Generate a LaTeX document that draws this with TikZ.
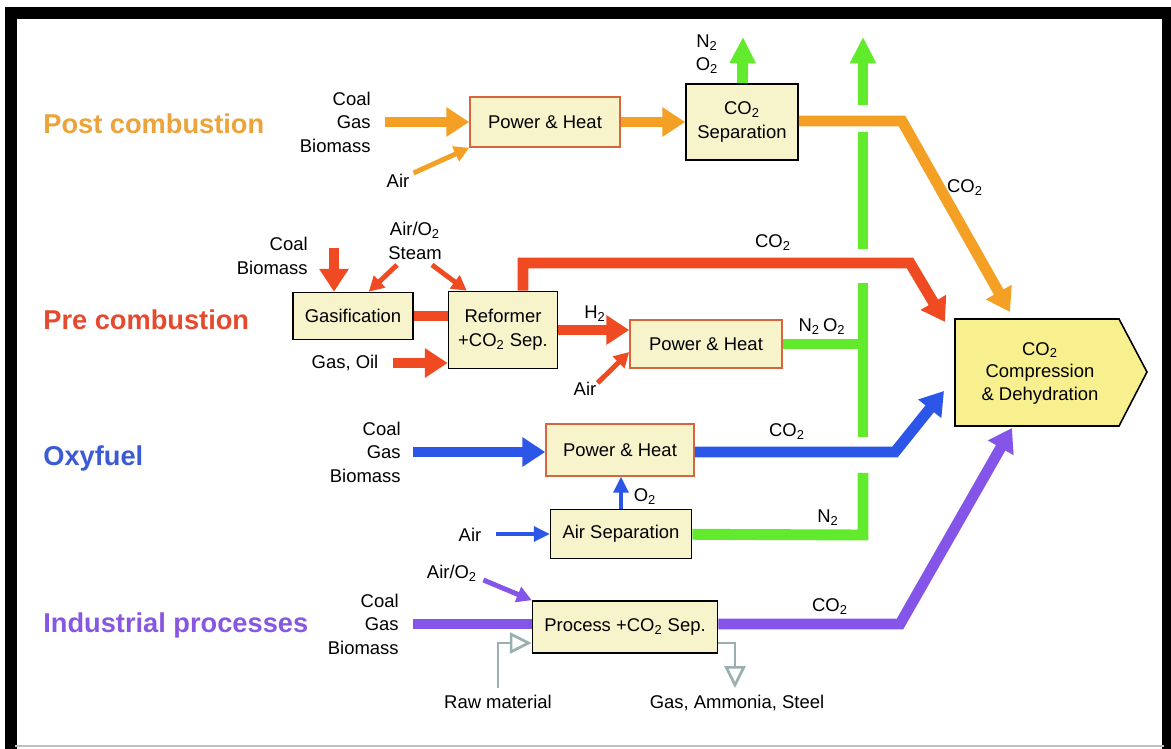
\documentclass[tikz,border=0pt]{standalone}
\usepackage{fontspec}
\setmainfont{Liberation Sans}
\usetikzlibrary{arrows.meta}

\definecolor{cOrange}{HTML}{F4A024}
\definecolor{cRed}{HTML}{EF4A22}
\definecolor{cBlue}{HTML}{2B56E8}
\definecolor{cGreen}{HTML}{62EA2C}
\definecolor{cPurple}{HTML}{8455E8}
\definecolor{tOrange}{HTML}{EBA33A}
\definecolor{tRed}{HTML}{E64A2E}
\definecolor{tBlue}{HTML}{3B5BD6}
\definecolor{tPurple}{HTML}{8857E0}
\definecolor{boxFill}{HTML}{F7F4CC}
\definecolor{compFill}{HTML}{F8EF8E}
\definecolor{boxEdge}{HTML}{D8663C}
\definecolor{cGray}{HTML}{9AAFB0}

\newcommand{\lblfont}{\fontsize{10.5}{13.4}\selectfont}
\newcommand{\ttlfont}{\fontsize{15.5}{18}\selectfont\bfseries}

\tikzset{
  box/.style={draw=black, fill=boxFill, line width=0.9pt, font=\lblfont, align=center, inner sep=0pt},
  pbox/.style={box, draw=boxEdge},
  lbl/.style={font=\lblfont, align=center, inner sep=0pt},
  ttl/.style={font=\ttlfont, anchor=west, inner sep=0pt},
  flow/.style={line width=6.2pt, -{Triangle[length=13pt,width=16pt]}},
  bar/.style={line width=5.6pt},
  thinflow/.style={line width=2.8pt, -{Triangle[length=8.5pt,width=9pt]}},
  slimflow/.style={line width=1.8pt, -{Triangle[length=9pt,width=8.5pt]}},
  gline/.style={cGreen, line width=6.2pt},
  gflow/.style={gline, -{Triangle[length=15pt,width=14pt]}},
  raw/.style={cGray, line width=1.5pt, -{Triangle[length=12.5pt,width=12pt,fill=white]}}
}

\begin{document}
\begin{tikzpicture}[x=0.02cm, y=-0.02cm]
\useasboundingbox (0,0) rectangle (1171,749);
\fill[white] (0,0) rectangle (1171,749);
\draw[line width=6.8pt] (11,749) -- (11,13) -- (1168,13) -- (1168,749);
\draw[black!25, line width=1.5pt] (15,746) -- (1164,746);

% titles
\node[ttl, text=tOrange] (post) at (43,124) {Post combustion};
\node[ttl, text=tRed] (pre) at (43,320) {Pre combustion};
\node[ttl, text=tBlue] (oxy) at (43,458) {Oxyfuel};
\node[ttl, text=tPurple] (ind) at (43,625) {Industrial processes};

% post combustion
\node[lbl, align=right, anchor=east] (fuel1) at (371,122) {Coal\\Gas\\Biomass};
\node[pbox, minimum width=3cm, minimum height=1cm] (ph1) at (545,122) {Power \& Heat};
\node[box, minimum width=2.24cm, minimum height=1.52cm] (sep) at (742,122) {CO\textsubscript{2}\\Separation};
\node[lbl] (air1) at (398,181) {Air};
\node[lbl] (n2o2a) at (707,54) {N\textsubscript{2}\\O\textsubscript{2}};
\node[lbl] (co2a) at (965,188) {CO\textsubscript{2}};
\coordinate (c1) at (902,121);
\coordinate (c1tip) at (1010,312);
\coordinate (n2tip) at (743,37);

\draw[flow, cOrange] ([xshift=8pt]fuel1.east |- ph1) -- (ph1);
\draw[thinflow, cOrange] ([shift={(4,-1)}]air1.north east) -- (ph1.south west);
\draw[flow, cOrange] (ph1) -- (sep);
\draw[gflow] (sep) -- (n2tip);
\draw[flow, cOrange] (sep.east |- c1) -- (c1) -- (c1tip);

% pre combustion
\node[lbl, align=right, anchor=east] (fuel2) at (308,256) {Coal\\Biomass};
\node[lbl] (steam) at (415,241) {Air/O\textsubscript{2}\\Steam};
\node[box, minimum width=2.4cm, minimum height=0.94cm] (gas) at (353,316) {Gasification};
\node[box, minimum width=2.18cm, minimum height=1.54cm] (ref) at (503,330) {Reformer\\+CO\textsubscript{2} Sep.};
\node[pbox, minimum width=3.04cm, minimum height=0.96cm] (ph2) at (706,344) {Power \& Heat};
\node[lbl] (gasoil) at (345,363) {Gas, Oil};
\node[lbl] (h2) at (595,314) {H\textsubscript{2}};
\node[lbl] (air2) at (585,389) {Air};
\node[lbl] (co2b) at (773,243) {CO\textsubscript{2}};
\node[lbl] (n2o2b) at (822,327) {N\textsubscript{2}\,O\textsubscript{2}};
\coordinate (f2) at (334,248);
\coordinate (c2a) at (523,263);
\coordinate (c2b) at (910,263);
\coordinate (c2tip) at (945,322);

\draw[flow, cRed] (f2) -- (f2 |- gas.north);
\draw[thinflow, cRed] ([shift={(-18,5)}]steam.south) -- ([shift={(-45,0)}]gas.north east);
\draw[thinflow, cRed] ([shift={(17,5)}]steam.south) -- ([shift={(19,0)}]ref.north west);
\draw[bar, cRed] (gas.east) -- (gas.east -| ref.west);
\draw[flow, cRed] ([xshift=8pt]gasoil.east) -- (gasoil -| ref.west);
\draw[flow, cRed] (ref.north -| c2a) -- (c2a) -- (c2b) -- (c2tip);
\draw[flow, cRed] (ref.east) -- (ref.east -| ph2.west);
\draw[thinflow, cRed] ([shift={(1,1)}]air2.north east) -- ([shift={(0,8)}]ph2.west);

% green collector
\coordinate (gtop) at (863,37);
\coordinate (g1) at (863,105);
\coordinate (g2) at (863,132);
\coordinate (g3) at (863,249);
\coordinate (g4) at (863,283);
\coordinate (g5) at (863,437);
\coordinate (g6) at (863,473);
\coordinate (gcorner) at (863,535);
\draw[gflow] (g1) -- (gtop);
\draw[gline] (g2) -- (g3);
\draw[gline] (g4) -- (g5);
\draw[gline] (ph2) -- (ph2 -| g4);

% oxyfuel
\node[lbl, align=right, anchor=east] (fuel3) at (401,452) {Coal\\Gas\\Biomass};
\node[pbox, minimum width=2.96cm, minimum height=1.04cm] (ph3) at (620,450) {Power \& Heat};
\node[box, minimum width=2.82cm, minimum height=0.98cm] (asu) at (621,534) {Air Separation};
\node[lbl] (o2) at (645,497) {O\textsubscript{2}};
\node[lbl] (air3) at (470,535) {Air};
\node[lbl] (co2c) at (787,432) {CO\textsubscript{2}};
\node[lbl] (n2) at (828,518) {N\textsubscript{2}};
\coordinate (c3) at (895,452);
\coordinate (c3tip) at (944,391);

\draw[flow, cBlue] ([xshift=7pt]fuel3.east) -- (fuel3 -| ph3.west);
\draw[flow, cBlue] (ph3.east |- c3) -- (c3) -- (c3tip);
\draw[slimflow, cBlue] (asu.north) -- (asu.north |- ph3.south);
\draw[slimflow, cBlue] ([xshift=8pt]air3.east |- asu.west) -- (asu.west);
\draw[gline] (asu) -- (gcorner) -- (g6);

% industrial processes
\node[lbl, align=right, anchor=east] (fuel4) at (399,624) {Coal\\Gas\\Biomass};
\node[box, minimum width=3.7cm, minimum height=1.04cm] (proc) at (625,627) {Process +CO\textsubscript{2} Sep.};
\node[lbl] (airo2) at (452,573) {Air/O\textsubscript{2}};
\node[lbl] (co2d) at (830,607) {CO\textsubscript{2}};
\node[lbl] (rawm) at (498,702) {Raw material};
\node[lbl] (prod) at (737,703) {Gas, Ammonia, Steel};
\coordinate (c4) at (900,624);
\coordinate (c4tip) at (1012,428);
\coordinate (rawc) at (498,643);
\coordinate (prodc) at (735,643);
\coordinate (prodtip) at (735,688);

\draw[bar, cPurple] ([xshift=8pt]fuel4.east) -- (fuel4 -| proc.west);
\draw[thinflow, cPurple] ([shift={(6,7)}]airo2.east) -- (proc.north west);
\draw[flow, cPurple] (proc.east |- c4) -- (c4) -- (c4tip);
\draw[raw] ([yshift=4pt]rawm.north) -- (rawc) -- (proc.west |- rawc);
\draw[raw] (proc.east |- prodc) -- (prodc) -- (prodtip);

% compression
\draw[fill=compFill, line width=0.9pt] (955,319) -- (1119,319) -- (1147,372) -- (1119,426) -- (955,426) -- cycle;
\node[lbl, font=\fontsize{10.5}{12.8}\selectfont] (comp) at (1040,373) {CO\textsubscript{2}\\Compression\\\& Dehydration};
\end{tikzpicture}
\end{document}
